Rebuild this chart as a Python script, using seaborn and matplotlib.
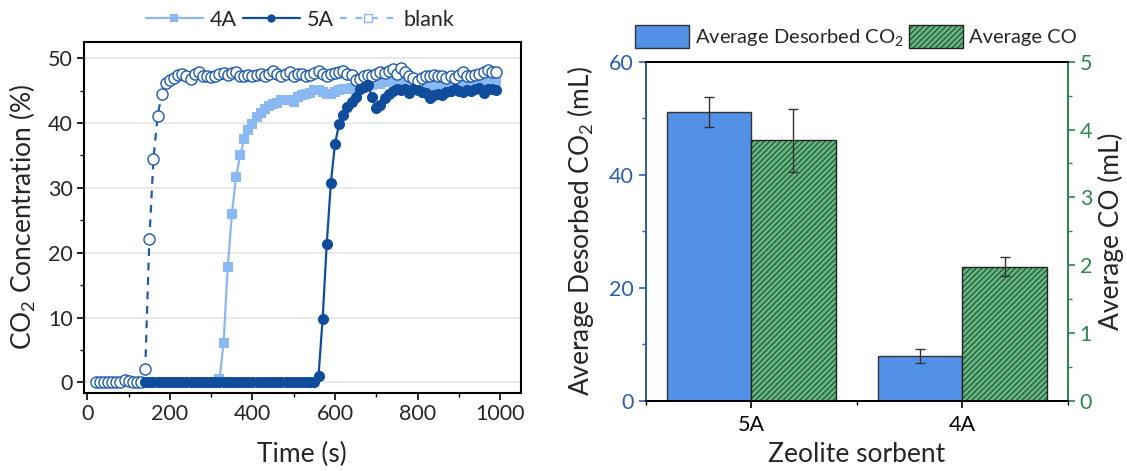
import numpy as np
import pandas as pd
import matplotlib
matplotlib.use("Agg")
import matplotlib.pyplot as plt
import seaborn as sns
from matplotlib.lines import Line2D
from matplotlib.patches import Patch
from matplotlib.ticker import MultipleLocator

# ---------------- data: breakthrough curves ----------------
t_blank = np.arange(20, 1000, 10)
co2_blank = [0, 0, 0, 0, 0, 0, 0.1, 0.4, 0.2, 0, 0, 0,
             2.0, 22.1, 34.5, 41.1, 44.5, 46.2, 46.6, 47.0, 47.4, 47.6,
             47.3, 46.8, 47.6, 47.9, 47.3, 47.2, 47.1, 47.2, 47.6, 47.7,
             47.4, 47.7, 47.9, 47.2, 47.3, 47.4, 47.3, 47.4, 47.5, 47.2,
             47.6, 48.0, 47.6, 47.3, 47.5, 47.8, 47.3, 47.6, 47.5, 47.2,
             47.4, 47.7, 48.1, 47.6, 47.3, 47.5, 47.7, 47.9, 48.0, 47.5,
             47.4, 46.6, 46.8, 47.2, 47.4, 47.3, 47.6, 47.9, 47.7, 48.0,
             48.3, 47.6, 48.5, 47.8, 47.2, 47.0, 46.5, 47.0, 47.2, 47.3,
             47.4, 47.3, 47.2, 47.0, 47.3, 46.9, 47.4, 47.9, 47.2, 47.3,
             47.4, 47.6, 47.9, 48.2, 47.9, 47.8]

t_4a = np.arange(140, 1000, 10)
co2_4a = [0] * 18 + [
    0.5, 6.1, 17.8, 25.9, 31.7, 35.0, 37.5, 38.9, 39.9, 40.9,
    41.6, 42.2, 42.6, 42.9, 43.1, 43.5, 43.5, 43.5, 43.3, 44.0,
    44.4, 44.5, 44.7, 45.1, 45.1, 44.8, 44.5, 44.5, 44.8, 45.1,
    45.2, 45.3, 45.4, 45.5, 45.6, 45.5, 45.7, 45.9, 46.2, 46.0,
    46.3, 46.5, 46.6, 46.4, 46.2, 46.0, 45.8, 45.9, 45.7, 46.0,
    46.2, 45.9, 45.6, 45.8, 46.0, 45.8, 45.7, 46.0, 46.2, 46.0,
    46.1, 46.3, 46.2, 46.4, 46.5, 46.6, 46.5, 46.5]

t_5a = np.arange(140, 1000, 10)
co2_5a = [0] * 42 + [
    1.0, 9.8, 21.4, 30.8, 36.8, 39.9, 41.2, 42.4, 43.2, 44.0,
    45.2, 45.6, 45.8, 44.0, 42.3, 42.8, 43.8, 44.5, 45.0, 45.2,
    45.1, 45.2, 44.6, 45.2, 45.1, 44.8, 44.6, 43.9, 44.3, 44.5,
    44.3, 44.8, 45.0, 45.2, 44.9, 44.8, 45.1, 44.9, 45.2, 45.4,
    44.6, 45.3, 45.2, 45.1]

assert len(t_blank) == len(co2_blank)
assert len(t_4a) == len(co2_4a)
assert len(t_5a) == len(co2_5a)

# ---------------- data: bar chart ----------------
sorbents = ["5A", "4A"]
desorbed_co2 = [51.1, 8.0]
desorbed_co2_err = [2.6, 1.2]
avg_co = [3.84, 1.98]
avg_co_err = [0.46, 0.14]

# ---------------- style ----------------
sns.set_theme(style="white")
plt.rcParams["font.family"] = ["Lato", "DejaVu Sans"]
plt.rcParams["mathtext.fontset"] = "custom"
plt.rcParams["mathtext.rm"] = "Lato"
plt.rcParams["hatch.linewidth"] = 0.6

C_4A = "#8AB8F2"
C_5A = "#0F4C9C"
C_BLANK = "#1F5BA8"
C_BAR_BLUE = "#5291E6"
C_BAR_GREEN = "#5DB87E"
C_LEFT = "#2A5FB0"
C_RIGHT = "#2F8550"

LABEL_FS = 19
TICK_FS = 15.5

fig = plt.figure(figsize=(11.27, 4.71), dpi=100)
ax = fig.add_axes([0.0745, 0.1662, 0.3875, 0.7446])

df4 = pd.DataFrame({"t": t_4a, "c": co2_4a})
df5 = pd.DataFrame({"t": t_5a, "c": co2_5a})
dfb = pd.DataFrame({"t": t_blank, "c": co2_blank})

sns.lineplot(data=df4, x="t", y="c", ax=ax, color=C_4A, lw=1.6, marker="s",
             markersize=6.5, markeredgewidth=0, zorder=2)
sns.lineplot(data=dfb, x="t", y="c", ax=ax, color=C_BLANK, lw=1.6, marker="o",
             markersize=8, markerfacecolor="white", markeredgecolor=C_BLANK,
             markeredgewidth=1.0, zorder=3)
ax.lines[-1].set_linestyle((0, (3.5, 3)))
sns.lineplot(data=df5, x="t", y="c", ax=ax, color=C_5A, lw=1.6, marker="o",
             markersize=8, markeredgewidth=0, zorder=4)

ax.set_xlim(-8.5, 1050)
ax.set_ylim(-1.6, 52.5)
ax.set_xticks([0, 200, 400, 600, 800, 1000])
ax.set_yticks([0, 10, 20, 30, 40, 50])
ax.xaxis.set_minor_locator(MultipleLocator(100))
ax.yaxis.set_minor_locator(MultipleLocator(5))
ax.yaxis.grid(True, color="#E6E6E6", lw=1.2)
ax.set_axisbelow(True)
ax.tick_params(axis="both", which="major", direction="out", length=5, width=1.2,
               labelsize=TICK_FS, color="black", bottom=True, left=True, pad=3)
ax.tick_params(axis="both", which="minor", direction="out", length=3, width=1.0,
               color="black", bottom=True, left=True)
for s in ax.spines.values():
    s.set_color("black")
    s.set_linewidth(1.5)
ax.set_xlabel("Time (s)", fontsize=LABEL_FS, labelpad=13)
ax.set_ylabel("CO$_2$ Concentration (%)", fontsize=LABEL_FS, labelpad=7)

handles = [
    Line2D([], [], color=C_4A, lw=1.6, marker="s", markersize=6, markeredgewidth=0),
    Line2D([], [], color=C_5A, lw=1.6, marker="o", markersize=6, markeredgewidth=0),
    Line2D([], [], color=C_4A, lw=1.6, ls=(0, (3, 4)), marker="s", markersize=6,
           markerfacecolor="white", markeredgecolor=C_4A, markeredgewidth=1.0),
]
fig.legend(handles, ["4A", "5A", "blank"], loc="center",
           bbox_to_anchor=(300 / 1127, 1 - 20 / 471), ncol=3, frameon=False,
           fontsize=15.5, handlelength=2.65, columnspacing=0.3, handletextpad=0.3)

# ---------------- bar chart ----------------
axb = fig.add_axes([0.5729, 0.1486, 0.3746, 0.7204])
axc = axb.twinx()

dfa = pd.DataFrame({"sorbent": sorbents, "value": desorbed_co2, "kind": "CO2"})
dfc = pd.DataFrame({"sorbent": sorbents, "value": avg_co, "kind": "CO"})
order = sorbents
hue_order = ["CO2", "CO"]
pal = {"CO2": C_BAR_BLUE, "CO": C_BAR_GREEN}

sns.barplot(data=dfa, x="sorbent", y="value", hue="kind", order=order,
            hue_order=hue_order, palette=pal, ax=axb, width=0.8, dodge=True,
            saturation=1, errorbar=None, edgecolor="#333333", linewidth=1.0,
            legend=False)
sns.barplot(data=dfc, x="sorbent", y="value", hue="kind", order=order,
            hue_order=hue_order, palette=pal, ax=axc, width=0.8, dodge=True,
            saturation=1, errorbar=None, edgecolor="#222222", linewidth=1.0,
            hatch="//////", legend=False)

xa = [p.get_x() + p.get_width() / 2 for p in axb.patches if p.get_height() > 0][:2]
xc = [p.get_x() + p.get_width() / 2 for p in axc.patches if p.get_height() > 0][:2]
axb.errorbar(xa, desorbed_co2, yerr=desorbed_co2_err, fmt="none", ecolor="#333333",
             elinewidth=1.0, capsize=3.5, capthick=1.0, zorder=5)
axc.errorbar(xc, avg_co, yerr=avg_co_err, fmt="none", ecolor="#333333",
             elinewidth=1.0, capsize=3.5, capthick=1.0, zorder=5)

axb.set_xlim(-0.5, 1.5)
axb.set_ylim(0, 60)
axc.set_ylim(0, 5)
axb.set_yticks([0, 20, 40, 60])
axb.yaxis.set_minor_locator(MultipleLocator(10))
axc.set_yticks([0, 1, 2, 3, 4, 5])
axc.yaxis.set_minor_locator(MultipleLocator(0.5))
axb.set_xticks([0, 1])
axb.set_xticklabels(sorbents)
axb.xaxis.set_minor_locator(MultipleLocator(0.5))

axb.tick_params(axis="y", which="major", direction="out", length=5, width=1.2,
                colors=C_LEFT, labelsize=TICK_FS, left=True)
axb.tick_params(axis="y", which="minor", direction="out", length=3, width=1.0,
                colors=C_LEFT, left=True)
axb.tick_params(axis="x", which="major", direction="out", length=5, width=1.2,
                color="black", labelcolor="black", labelsize=TICK_FS, bottom=True,
                pad=5)
axb.tick_params(axis="x", which="minor", direction="out", length=3, width=1.0,
                color="black", bottom=True)
axc.tick_params(axis="y", which="major", direction="out", length=5, width=1.2,
                colors=C_RIGHT, labelsize=TICK_FS, right=True)
axc.tick_params(axis="y", which="minor", direction="out", length=3, width=1.0,
                colors=C_RIGHT, right=True)

for a in (axb, axc):
    a.spines["top"].set_color("black")
    a.spines["bottom"].set_color("black")
    a.spines["left"].set_color(C_LEFT)
    a.spines["right"].set_color(C_RIGHT)
    for s in a.spines.values():
        s.set_linewidth(1.3)
axc.grid(False)
axb.grid(False)

axb.set_xlabel("Zeolite sorbent", fontsize=LABEL_FS, labelpad=5)
axb.set_ylabel("Average Desorbed CO$_2$ (mL)", fontsize=LABEL_FS, labelpad=9)
axc.set_ylabel("Average CO (mL)", fontsize=LABEL_FS, labelpad=4)

leg_handles = [
    Patch(facecolor=C_BAR_BLUE, edgecolor="#333333", lw=1.0),
    Patch(facecolor=C_BAR_GREEN, edgecolor="#222222", lw=1.0, hatch="//////"),
]
fig.legend(leg_handles, ["Average Desorbed CO$_2$", "Average CO"], loc="center",
           bbox_to_anchor=(856 / 1127, 1 - 37 / 471), ncol=2, frameon=False,
           fontsize=14.5, handlelength=2.66, handleheight=1.34, columnspacing=0.26,
           handletextpad=0.3)

fig.savefig("out.png", dpi=100)
